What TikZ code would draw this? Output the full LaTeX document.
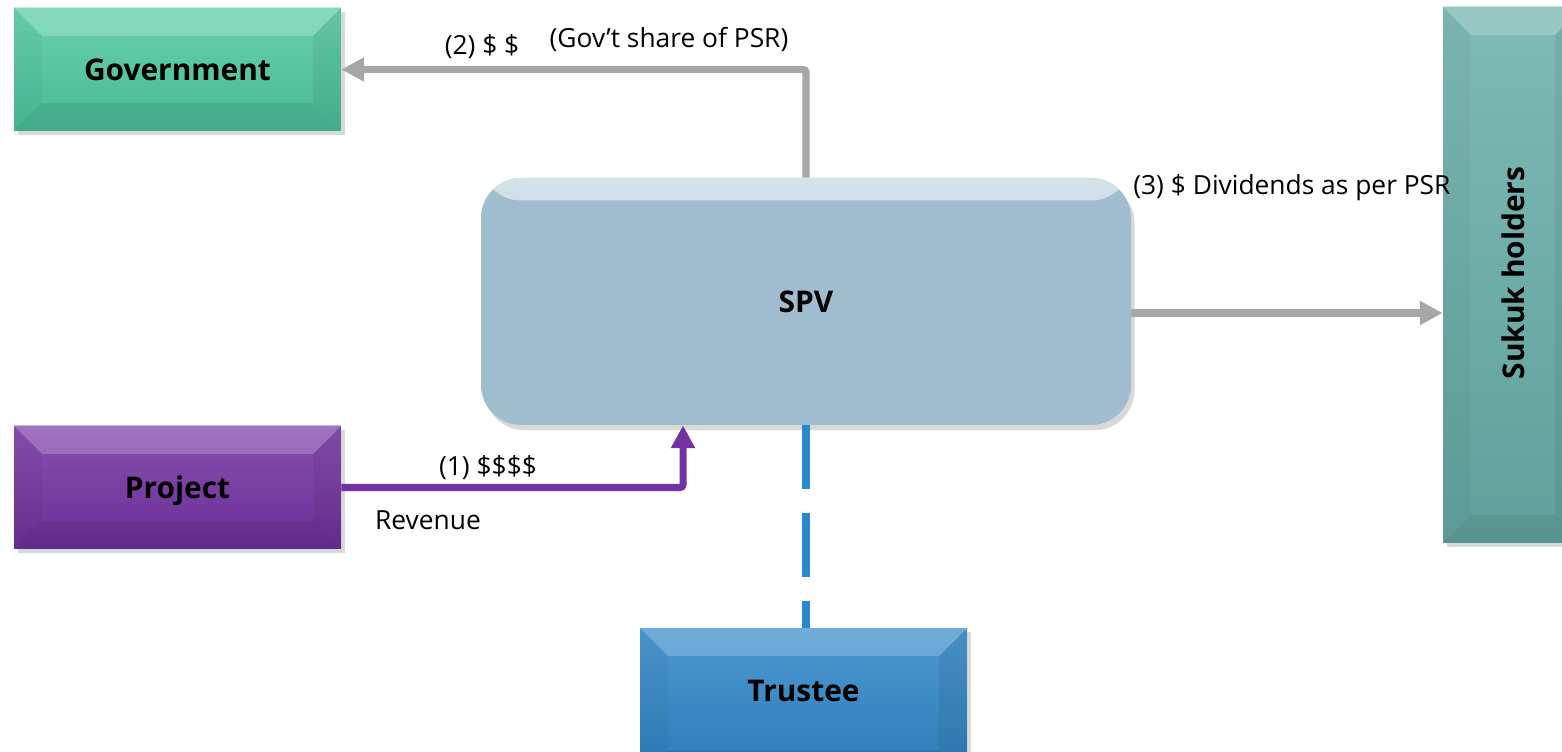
\documentclass[tikz,border=0pt]{standalone}
\usepackage{fontspec}
\setmainfont{Open Sans}
\usepackage{graphicx}
\usepackage{tikz}
\usetikzlibrary{arrows.meta,shadows,calc}

\definecolor{govgreen}{HTML}{4FC9A1}
\definecolor{sukukteal}{HTML}{68AEA9}
\definecolor{projpurple}{HTML}{7332A3}
\definecolor{trustblue}{HTML}{2E86C8}
\definecolor{spvblue}{HTML}{A0BDD0}
\definecolor{flowgray}{HTML}{A6A6A6}
\definecolor{dashblue}{HTML}{2C86CB}

\def\px{0.02cm} %one pixel of the reference
\def\bv{0.56cm} %size of the bevel

\tikzset{
  boldfont/.style={font=\fontsize{17}{20}\selectfont\bfseries},
  boxfont/.style={boldfont, text height=12.2pt, text depth=0pt},
  bevelbox/.style={fill=#1, draw=none, inner sep=0pt, boxfont,
    drop shadow={shadow xshift=2pt,shadow yshift=-2.5pt,opacity=.3},
    path picture={
      \shade[top color=white!30!#1, bottom color=#1!85!black, opacity=.5] (path picture bounding box.north west) rectangle (path picture bounding box.south east);
      \fill[white,opacity=.2] (path picture bounding box.north west) -- (path picture bounding box.north east) -- ([xshift=-\bv,yshift=-\bv]path picture bounding box.north east) -- ([xshift=\bv,yshift=-\bv]path picture bounding box.north west) -- cycle;
      \fill[black,opacity=.07] (path picture bounding box.south west) -- (path picture bounding box.south east) -- ([xshift=-\bv,yshift=\bv]path picture bounding box.south east) -- ([xshift=\bv,yshift=\bv]path picture bounding box.south west) -- cycle;
      \fill[black,opacity=.03] (path picture bounding box.north west) -- ([xshift=\bv,yshift=-\bv]path picture bounding box.north west) -- ([xshift=\bv,yshift=\bv]path picture bounding box.south west) -- (path picture bounding box.south west) -- cycle;
      \fill[black,opacity=.06] (path picture bounding box.north east) -- ([xshift=-\bv,yshift=-\bv]path picture bounding box.north east) -- ([xshift=-\bv,yshift=\bv]path picture bounding box.south east) -- (path picture bounding box.south east) -- cycle;
    }},
  widebox/.style={bevelbox=#1, minimum width=327*\px, minimum height=123*\px},
  spvbox/.style={fill=spvblue, draw=none, rounded corners=0.8cm,
    minimum width=650*\px, minimum height=247*\px, boxfont,
    drop shadow={shadow xshift=2pt,shadow yshift=-3pt,opacity=.3},
    path picture={
      \shade[top color=white!55!spvblue, bottom color=spvblue] (path picture bounding box.north west) rectangle ([yshift=-0.45cm]path picture bounding box.north east);
    }},
  lbl/.style={font=\fontsize{15}{17}\selectfont, inner sep=0pt},
  grayflow/.style={draw=flowgray, line width=4pt, rounded corners=1.5pt, -{Triangle[length=13pt,width=13pt]}},
  purpleflow/.style={draw=projpurple, line width=4pt, rounded corners=1.5pt, -{Triangle[length=13pt,width=13pt]}},
  trustline/.style={draw=dashblue, line width=4.4pt, dash pattern=on 36.3pt off 13.6pt}
}

\begin{document}
\begin{tikzpicture}[x=\px,y=\px]
	\useasboundingbox (0,0) rectangle (1562,751);
	
	%BOXES
	\node[widebox=govgreen] (gov) at (177.5,681.5) {Government};
	\node[widebox=projpurple] (proj) at (177.5,263.5) {Project};
	\node[bevelbox=trustblue, minimum width=327*\px, minimum height=150*\px] (trustee) at (803.5,48) {};
	\node[boxfont] (trusteetext) at (803.5,60) {Trustee};
	\node[bevelbox=sukukteal, text height=, text depth=, minimum width=140*\px, minimum height=536*\px] (sukuk) at (1513,476) {};
	\node[boldfont] (sukuktext) at (1513,478) {\rotatebox{90}{Sukuk holders}};
	\node[spvbox] (spv) at (806,449.5) {SPV};
	
	%ARROWS
	\draw[grayflow] (spv.north) |- (gov.east); %government share
	\coordinate (spvout) at ([yshift=-0.23cm]spv.east);
	\draw[grayflow] (spvout) -- (spvout -| sukuk.west); %dividends
	\draw[purpleflow] (proj.east) -| ([xshift=-2.46cm]spv.south); %revenue
	\draw[trustline] (spv.south) -- (spv.south |- trustee.north); %trustee link
	
	%LABELS
	\node[lbl] (lbltwo) at (482,704) {(2) \$ \$};
	\node[lbl] (lblgov) at (669,711) {(Gov’t share of PSR)};
	\node[lbl,anchor=west] (lblthree) at (1133,563) {(3) \$ Dividends as per PSR};
	\node[lbl] (lblone) at (488,283) {(1) \$\$\$\$};
	\node[lbl] (lblrev) at (428,231) {Revenue};
\end{tikzpicture}
\end{document}
